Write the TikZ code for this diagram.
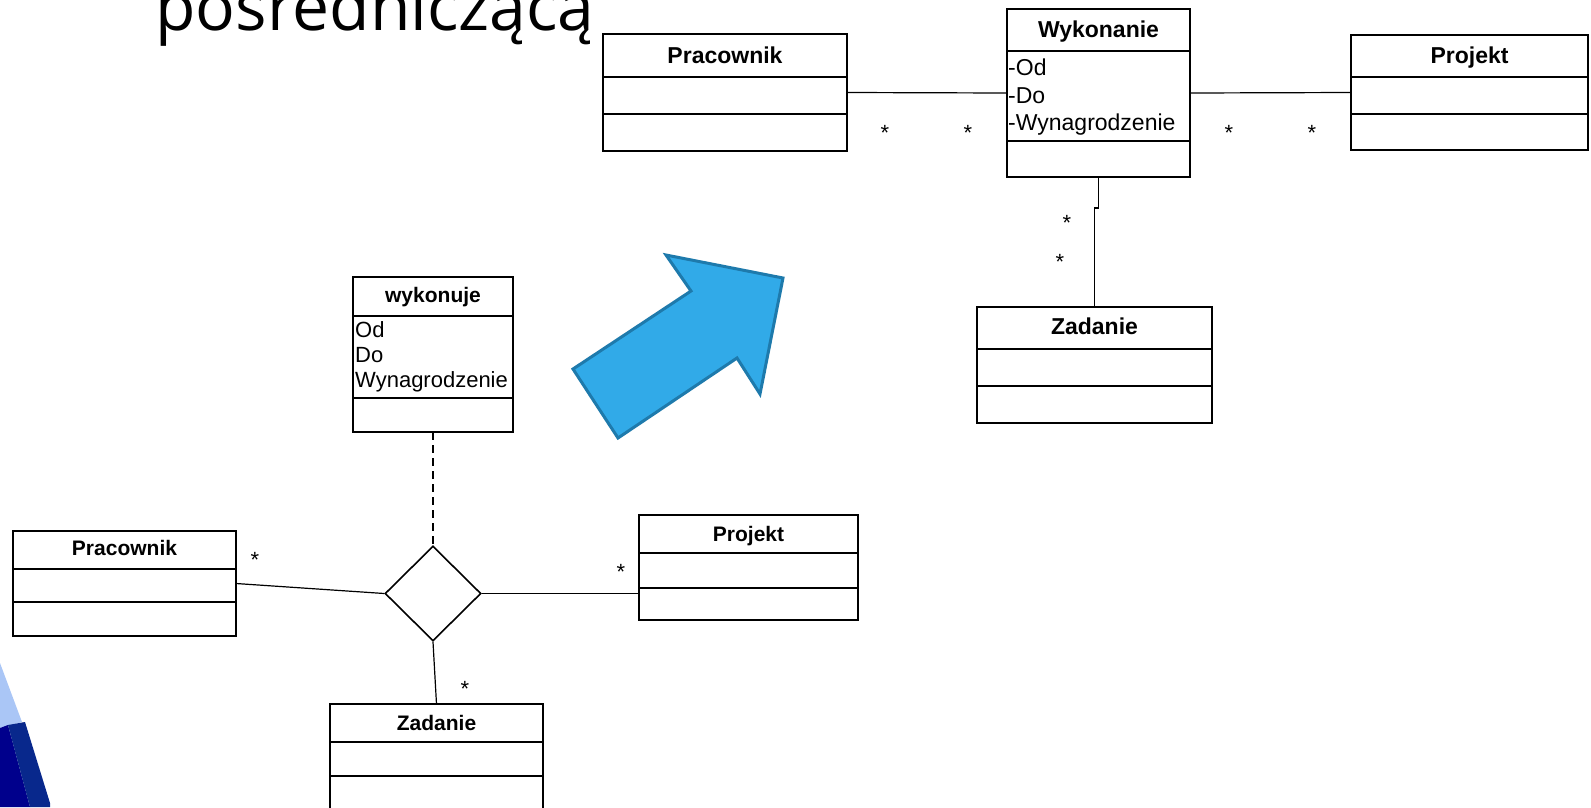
\documentclass[tikz,border=0pt]{standalone}
\usepackage{fontspec}
\setmainfont{Liberation Sans}
\newfontfamily\headingfont{Open Sans}
\usetikzlibrary{shapes.geometric}
\definecolor{arrowfill}{RGB}{49,170,232}
\definecolor{arrowedge}{RGB}{30,122,172}
\definecolor{lightdeco}{RGB}{170,198,246}
\definecolor{navyA}{RGB}{0,0,140}
\definecolor{navyB}{RGB}{8,40,140}

% class box: name, x1, y1, x2, y2, first divider y, second divider y
\newcommand\umlclass[7]{%
  \node[box, anchor=north west, minimum width={(#4)-(#2)}, minimum height={(#5)-(#3)}] (#1) at (#2,#3) {};
  \draw[divider] (#1.west |- 0,#6) -- (#1.east |- 0,#6);
  \draw[divider] (#1.west |- 0,#7) -- (#1.east |- 0,#7);
}

\begin{document}
\begin{tikzpicture}[x=1pt,y=-1pt,
  box/.style={draw=black, line width=1.8pt, fill=white, inner sep=0pt, outer sep=0pt, rectangle},
  divider/.style={line width=1.8pt},
  conn/.style={line width=1.2pt},
  bigtitle/.style={font=\fontsize{23}{27}\selectfont\bfseries, inner sep=0pt, anchor=base},
  smalltitle/.style={font=\fontsize{21}{25}\selectfont\bfseries, inner sep=0pt, anchor=base},
  bigattr/.style={font=\fontsize{23}{28}\selectfont, inner sep=0pt, anchor=base west},
  smallattr/.style={font=\fontsize{22}{25}\selectfont, inner sep=0pt, anchor=base west},
  mult/.style={font=\fontsize{22}{22}\selectfont, inner sep=0pt, anchor=base},
]
\useasboundingbox (0,0) rectangle (1591,807);
\fill[white] (0,0) rectangle (1591,807);

% slide heading (partly above the page edge)
\node[font=\headingfont\fontsize{66}{72}\selectfont, anchor=base west, inner sep=0pt] (heading) at (155,30) {pośredniczącą};

% corner decoration
\fill[lightdeco] (0,663) -- (22,722) -- (0,728) -- cycle;
\fill[navyA] (0,728) -- (8,725) -- (30,807) -- (0,807) -- cycle;
\fill[navyB] (8,725) -- (25,722) -- (50,803) -- (50,807) -- (30,807) -- cycle;

% transformation arrow
\draw[arrowedge, fill=arrowfill, line width=3pt, line join=miter]
  (573,369) -- (618,438) -- (737,358) -- (760,394) -- (783,278) -- (666,255) -- (691,291) -- cycle;

% ---------- association class model ----------
\umlclass{wykB}{353}{277}{513}{432}{316}{398}
\node[smalltitle] (wykBt) at (433,302) {wykonuje};
\node[smallattr] (wykBa1) at (355,337) {Od};
\node[smallattr] (wykBa2) at (355,362) {Do};
\node[smallattr] (wykBa3) at (355,387) {Wynagrodzenie};

\umlclass{pracB}{13}{531}{236}{636}{569}{602}
\node[smalltitle] (pracBt) at (124.5,555) {Pracownik};

\umlclass{projB}{639}{515}{858}{620}{553}{588}
\node[smalltitle] (projBt) at (748.5,541) {Projekt};

\umlclass{zadB}{330}{704}{543}{830}{742}{776}
\node[smalltitle] (zadBt) at (436.5,730) {Zadanie};

\node[diamond, draw, fill=white, line width=1.6pt, inner sep=0pt, minimum width=96pt, minimum height=95pt] (dia) at (433,593.5) {};

\draw[conn, dash pattern=on 8pt off 5pt] (wykB.south) -- (dia.north);
\draw[conn] (pracB.east) -- (dia.west);
\draw[conn] (dia.east) -- (dia.east -| projB.west);
\draw[conn] (dia.south) -- (zadB.north);

\node[mult] (mB1) at (255,567.5) {*};
\node[mult] (mB2) at (621,579.5) {*};
\node[mult] (mB3) at (465,696.5) {*};

% ---------- intermediate class model ----------
\umlclass{pracA}{603}{34}{847}{151}{77}{114}
\node[bigtitle] (pracAt) at (725,63) {Pracownik};

\umlclass{wykA}{1007}{9}{1190}{177}{51}{141}
\node[bigtitle] (wykAt) at (1098.5,37) {Wykonanie};
\node[bigattr] (wykAa1) at (1008,75) {-Od};
\node[bigattr] (wykAa2) at (1008,103) {-Do};
\node[bigattr] (wykAa3) at (1008,130) {-Wynagrodzenie};

\umlclass{projA}{1351}{35}{1588}{150}{77}{114}
\node[bigtitle] (projAt) at (1469.5,63) {Projekt};

\umlclass{zadA}{977}{307}{1212}{423}{349}{386}
\node[bigtitle] (zadAt) at (1094.5,334) {Zadanie};

\draw[conn] (pracA.east) -- (wykA.west);
\draw[conn] (wykA.east) -- (projA.west);
\draw[conn] (wykA.south) -- ++(0,31) -| (zadA.north);

\node[mult] (mA1) at (885,140.5) {*};
\node[mult] (mA2) at (968,140.5) {*};
\node[mult] (mA3) at (1229,140.5) {*};
\node[mult] (mA4) at (1312,140.5) {*};
\node[mult] (mA5) at (1067,230.5) {*};
\node[mult] (mA6) at (1060,269.5) {*};
\end{tikzpicture}
\end{document}
